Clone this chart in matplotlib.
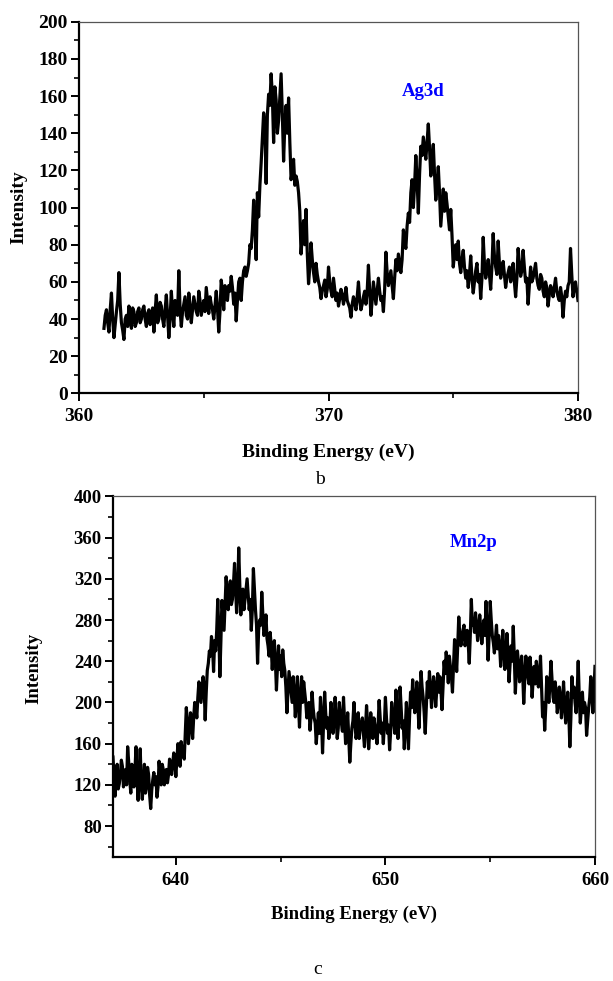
import numpy as np
import matplotlib
matplotlib.use("Agg")
import matplotlib.pyplot as plt
from matplotlib.ticker import MultipleLocator

plt.rcParams['font.family'] = ['Liberation Serif', 'DejaVu Serif']

# ---------------- data: Ag3d (panel b)
# readings at 361.0, 361.1, ... 380.0 eV
ag_start, ag_end = 361.0, 380.0
ag_intensity = [
    35, 45, 33, 54, 30, 44, 65, 38, 29, 42,
    47, 35, 44, 38, 46, 40, 47, 36, 45, 41,
    33, 53, 40, 47, 36, 53, 30, 55, 36, 47,
    66, 36, 48, 42, 54, 38, 52, 44, 55, 42,
    50, 57, 43, 48, 40, 55, 33, 61, 45, 52,
    58, 63, 48, 39, 60, 50, 66, 63, 70, 78,
    104, 72, 95, 124, 151, 113, 161, 172, 135, 158,
    147, 172, 125, 155, 159, 115, 126, 117, 108, 75,
    93, 99, 59, 81, 65, 70, 60, 51, 58, 52,
    68, 55, 62, 50, 47, 56, 48, 57, 48, 41,
    52, 45, 60, 45, 52, 48, 69, 42, 60, 48,
    62, 50, 44, 76, 58, 66, 51, 72, 75, 65,
    88, 78, 97, 108, 100, 128, 97, 133, 138, 126,
    145, 117, 134, 104, 122, 90, 110, 108, 95, 99,
    68, 80, 82, 65, 77, 62, 57, 74, 54, 66,
    60, 51, 84, 62, 72, 56, 86, 68, 82, 62,
    71, 57, 65, 60, 70, 52, 78, 63, 77, 60,
    48, 68, 62, 70, 58, 64, 55, 60, 47, 58,
    52, 62, 52, 57, 41, 55, 58, 78, 52, 60,
    50,
]
# readings at 361.05, 361.15, ... 379.95 eV
ag_intensity_mid = [
    42, 38, 45, 40, 37, 50, 48, 34, 40, 36,
    42, 46, 36, 44, 38, 45, 40, 43, 37, 46,
    44, 38, 49, 40, 45, 42, 40, 44, 50, 42,
    45, 44, 52, 40, 47, 45, 48, 42, 50, 46,
    44, 50, 52, 45, 47, 46, 44, 55, 58, 50,
    55, 57, 54, 50, 62, 60, 68, 66, 80, 88,
    90, 108, 112, 138, 145, 150, 155, 160, 165, 140,
    160, 150, 145, 140, 135, 120, 112, 114, 98, 85,
    80, 75, 68, 72, 60, 64, 57, 55, 61, 56,
    60, 52, 56, 54, 51, 53, 52, 50, 46, 48,
    49, 52, 50, 48, 55, 55, 56, 50, 54, 55,
    55, 52, 56, 65, 62, 58, 62, 66, 70, 72,
    82, 90, 92, 115, 112, 115, 118, 128, 132, 135,
    132, 125, 118, 112, 108, 100, 98, 102, 88, 85,
    75, 72, 70, 72, 68, 66, 64, 62, 60, 70,
    64, 62, 70, 66, 64, 68, 74, 64, 70, 66,
    64, 62, 68, 64, 60, 62, 70, 66, 68, 62,
    58, 60, 66, 62, 56, 62, 52, 57, 53, 56,
    57, 55, 50, 52, 50, 52, 60, 64, 57, 55,
]

# ---------------- data: Mn2p (panel c)
# readings at 637.0, 637.1, ... 660.0 eV
mn_start, mn_end = 637.0, 660.0
mn_intensity = [
    147, 109, 140, 121, 144, 118, 135, 157, 125, 140,
    118, 157, 105, 155, 106, 140, 118, 130, 97, 125,
    120, 108, 143, 120, 135, 127, 122, 145, 130, 151,
    128, 160, 138, 155, 145, 195, 160, 190, 165, 200,
    185, 220, 200, 225, 183, 231, 250, 264, 230, 250,
    300, 225, 299, 270, 322, 290, 318, 300, 335, 287,
    350, 285, 310, 300, 320, 290, 270, 330, 290, 238,
    280, 307, 265, 285, 255, 268, 232, 260, 212, 255,
    245, 251, 231, 190, 230, 210, 225, 186, 225, 176,
    225, 220, 200, 192, 173, 210, 185, 160, 190, 205,
    151, 210, 175, 165, 200, 170, 205, 165, 200, 180,
    205, 160, 190, 142, 175, 200, 165, 190, 175, 185,
    157, 197, 155, 190, 165, 178, 160, 202, 170, 160,
    205, 170, 154, 200, 180, 212, 165, 215, 175, 155,
    200, 155, 210, 222, 190, 220, 175, 230, 205, 170,
    220, 230, 195, 225, 196, 228, 225, 193, 240, 249,
    219, 235, 210, 261, 230, 283, 255, 270, 255, 270,
    238, 300, 280, 287, 260, 285, 257, 280, 298, 241,
    298, 265, 248, 275, 265, 235, 270, 232, 267, 220,
    255, 274, 209, 250, 220, 245, 199, 245, 225, 244,
    205, 235, 240, 215, 245, 186, 173, 225, 200, 240,
    205, 220, 190, 215, 185, 220, 180, 210, 157, 225,
    215, 190, 240, 180, 210, 200, 168, 195, 225, 190,
    235,
]
# readings at 637.05, 637.15, ... 659.95 eV
mn_intensity_mid = [
    128, 132, 116, 130, 138, 125, 120, 142, 112, 133,
    135, 125, 130, 120, 124, 112, 137, 110, 115, 132,
    128, 118, 130, 140, 120, 135, 130, 138, 140, 142,
    145, 150, 162, 150, 170, 180, 175, 182, 185, 195,
    205, 210, 212, 215, 210, 238, 245, 255, 260, 270,
    270, 260, 285, 295, 305, 310, 295, 315, 310, 305,
    315, 305, 290, 310, 305, 300, 290, 310, 275, 270,
    275, 285, 270, 262, 245, 255, 250, 240, 235, 232,
    225, 238, 215, 210, 220, 200, 210, 205, 198, 205,
    200, 210, 185, 200, 185, 195, 180, 175, 170, 185,
    180, 190, 185, 178, 185, 182, 185, 175, 188, 172,
    182, 170, 165, 160, 182, 178, 172, 165, 180, 170,
    175, 180, 170, 175, 185, 168, 178, 185, 180, 178,
    185, 178, 172, 188, 170, 190, 185, 195, 182, 175,
    180, 185, 195, 205, 200, 198, 200, 215, 190, 195,
    205, 215, 210, 215, 212, 210, 212, 215, 228, 238,
    245, 225, 235, 248, 255, 265, 262, 275, 262, 258,
    265, 275, 268, 275, 270, 272, 268, 265, 272, 265,
    280, 258, 262, 252, 255, 250, 252, 245, 248, 238,
    240, 245, 232, 238, 230, 228, 222, 235, 218, 230,
    222, 218, 230, 225, 215, 200, 195, 212, 218, 222,
    200, 210, 200, 205, 198, 200, 195, 190, 185, 205,
    200, 210, 205, 195, 190, 195, 182, 205, 210, 210,
]


def merge(main, mid):
    out = np.empty(len(main) + len(mid))
    out[0::2] = main
    out[1::2] = mid
    return out


ag_y = merge(ag_intensity, ag_intensity_mid)
mn_y = merge(mn_intensity, mn_intensity_mid)
ag_energy = np.linspace(ag_start, ag_end, len(ag_y))
mn_energy = np.linspace(mn_start, mn_end, len(mn_y))

ag_xticks = [360, 370, 380]
ag_yticks = list(range(0, 201, 20))
mn_xticks = [640, 650, 660]
mn_yticks = list(range(80, 401, 40))

fig = plt.figure(figsize=(6.13, 9.81), dpi=100)
ax1 = fig.add_axes([0.1289, 0.599, 0.814, 0.3788])
ax2 = fig.add_axes([0.1843, 0.1264, 0.7863, 0.3676])


def style(ax, fs):
    for s in ['left', 'bottom']:
        ax.spines[s].set_linewidth(1.6)
        ax.spines[s].set_color('black')
    for s in ['top', 'right']:
        ax.spines[s].set_linewidth(0.9)
        ax.spines[s].set_color('#555555')
    ax.tick_params(which='major', direction='out', length=6, width=1.4,
                   top=False, right=False)
    ax.tick_params(which='minor', direction='out', length=3.5, width=1.2,
                   top=False, right=False)
    ax.tick_params(axis='x', which='major', pad=4.5)
    ax.tick_params(axis='y', which='major', pad=2)
    for lab in ax.get_xticklabels() + ax.get_yticklabels():
        lab.set_fontweight('bold')
        lab.set_fontsize(fs)


# ---- panel b
ax1.plot(ag_energy, ag_y, color='black', lw=2.3)
ax1.set_xlim(360, 380)
ax1.set_ylim(0, 200)
ax1.set_xticks(ag_xticks)
ax1.set_yticks(ag_yticks)
ax1.xaxis.set_minor_locator(MultipleLocator(5))
ax1.yaxis.set_minor_locator(MultipleLocator(10))
style(ax1, 14)
ax1.set_xlabel('Binding Energy (eV)', fontsize=14, fontweight='bold')
ax1.set_ylabel('Intensity', fontsize=14, fontweight='bold')
ax1.yaxis.set_label_coords(-0.104, 0.5)
ax1.xaxis.set_label_coords(0.5, -0.135)
ax1.text(373.8, 162.7, 'Ag3d', color='#0000ff', fontsize=13.5,
         fontweight='bold', ha='center', va='center')

# ---- panel c
ax2.plot(mn_energy, mn_y, color='black', lw=2.3)
ax2.set_xlim(637, 660)
ax2.set_ylim(50, 400)
ax2.set_xticks(mn_xticks)
ax2.set_yticks(mn_yticks)
ax2.xaxis.set_minor_locator(MultipleLocator(5))
ax2.yaxis.set_minor_locator(MultipleLocator(20))
style(ax2, 13.5)
ax2.set_xlabel('Binding Energy (eV)', fontsize=13.5, fontweight='bold')
ax2.set_ylabel('Intensity', fontsize=13.5, fontweight='bold')
ax2.yaxis.set_label_coords(-0.147, 0.522)
ax2.xaxis.set_label_coords(0.5, -0.135)
ax2.text(654.2, 354.8, 'Mn2p', color='#0000ff', fontsize=13.5,
         fontweight='bold', ha='center', va='center')

fig.text(320 / 613, 1 - 480 / 981, 'b', fontsize=14, ha='center', va='center')
fig.text(318 / 613, 1 - 970 / 981, 'c', fontsize=14, ha='center', va='center')

fig.savefig('out.png', dpi=100)
